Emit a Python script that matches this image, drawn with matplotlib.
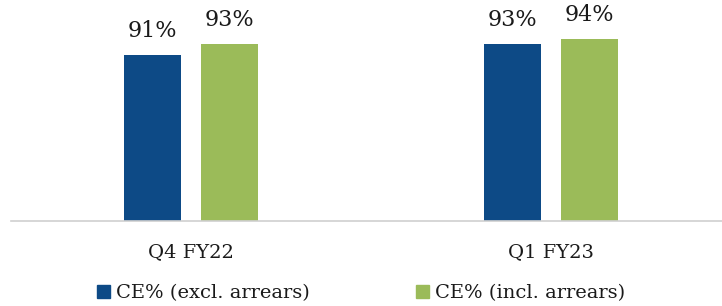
import matplotlib.pyplot as plt
from matplotlib.patches import Patch
import numpy as np

categories = ["Q4 FY22", "Q1 FY23"]
excl_arrears = [91, 93]
incl_arrears = [93, 94]
series_names = ["CE% (excl. arrears)", "CE% (incl. arrears)"]

BLUE = "#0D4A86"
GREEN = "#9BBB59"
FONT = "DejaVu Serif"

plt.rcParams["font.family"] = FONT

fig = plt.figure(figsize=(7.22, 3.06), dpi=100)
ax = fig.add_axes([11 / 722, 0.279, 1 - 11 / 722, 0.70])

x = np.arange(len(categories))
w = 0.156
off = 0.107
b1 = ax.bar(x - off, excl_arrears, w, color=BLUE)
b2 = ax.bar(x + off, incl_arrears, w, color=GREEN)

for bars, vals in ((b1, excl_arrears), (b2, incl_arrears)):
    for r, v in zip(bars, vals):
        ax.annotate(f"{v}%", (r.get_x() + r.get_width() / 2, v),
                    xytext=(0, 9), textcoords="offset points",
                    ha="center", va="bottom", fontsize=16, color="#1A1A1A")

ax.set_ylim(60, 100)
ax.set_xlim(-0.5, -0.5 + 711 / 360)
ax.set_xticks(x)
ax.set_xticklabels(categories, fontsize=14, color="#1A1A1A")
ax.tick_params(axis="x", length=0, pad=16)
ax.set_yticks([])
for s in ("top", "right", "left"):
    ax.spines[s].set_visible(False)
ax.spines["bottom"].set_color("#D0D0D0")
ax.spines["bottom"].set_linewidth(1.2)

handles = [Patch(color=BLUE), Patch(color=GREEN)]
fig.legend(handles, series_names, loc="center", bbox_to_anchor=(0.5, 0.042),
           ncol=2, frameon=False, fontsize=14, handlelength=0.7, handleheight=0.7,
           handletextpad=0.3, columnspacing=5.45, labelcolor="#1A1A1A")

fig.savefig("out.png", dpi=100)
